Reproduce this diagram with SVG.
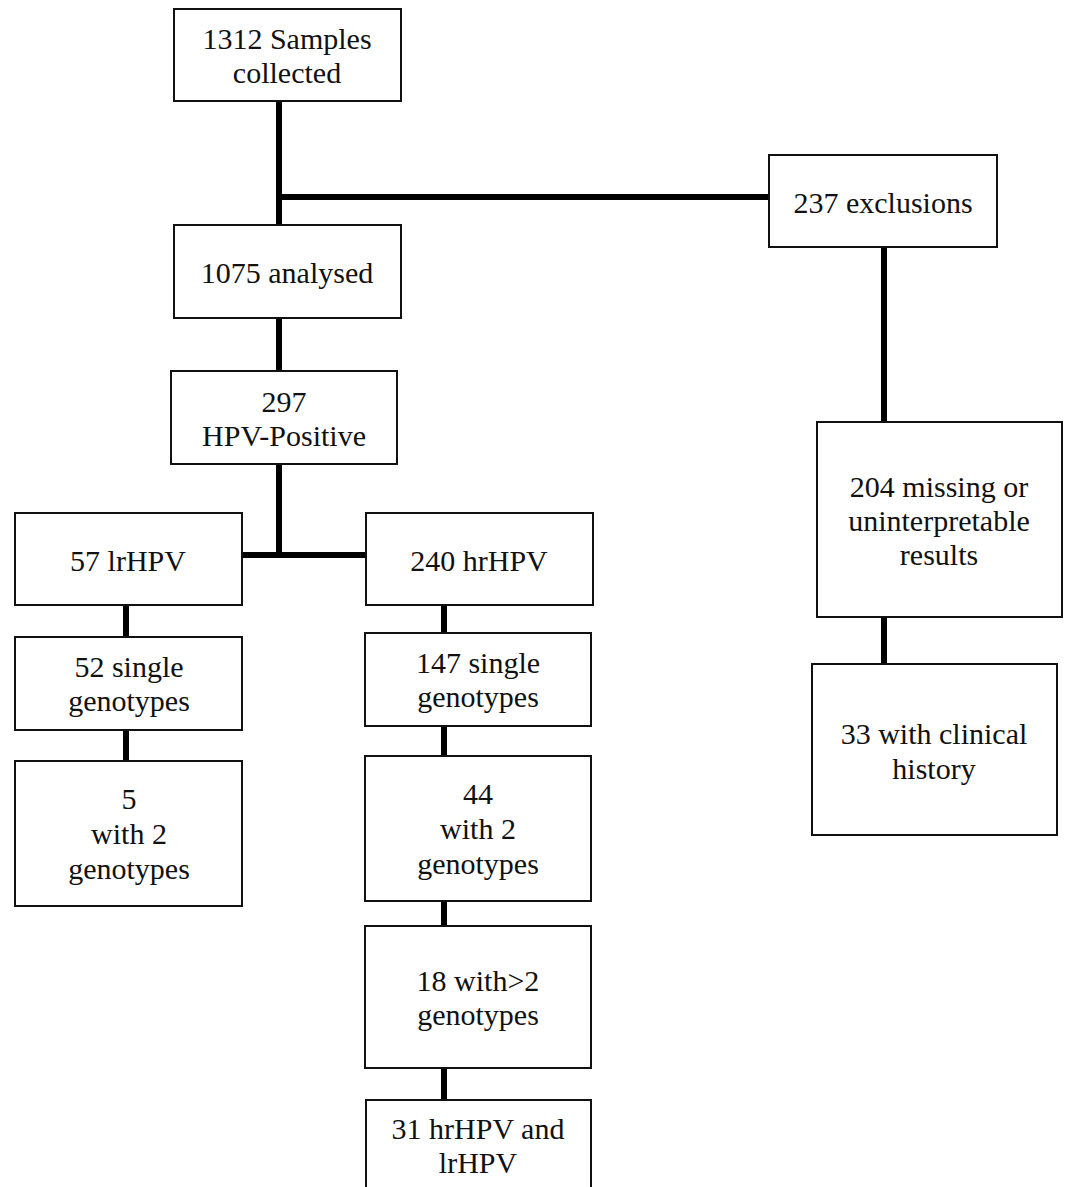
<svg xmlns="http://www.w3.org/2000/svg" width="1068" height="1187" viewBox="0 0 1068 1187">
<style>
.box{fill:#fff;stroke:#111;stroke-width:2}
.t{font-family:"Liberation Serif","Times New Roman",serif;font-size:30px;fill:#111;text-anchor:middle}
.c{stroke:#000;stroke-width:6;fill:none}
</style>
<rect width="1068" height="1187" fill="#fff"/>
<g id="connectors">
<line class="c" x1="279" y1="101" x2="279" y2="225"/>
<line class="c" x1="276" y1="197" x2="769" y2="197"/>
<line class="c" x1="279" y1="318" x2="279" y2="371"/>
<line class="c" x1="279" y1="464" x2="279" y2="558"/>
<line class="c" x1="242" y1="555" x2="366" y2="555"/>
<line class="c" x1="126" y1="605" x2="126" y2="637"/>
<line class="c" x1="126" y1="730" x2="126" y2="761"/>
<line class="c" x1="444" y1="605" x2="444" y2="633"/>
<line class="c" x1="444" y1="726" x2="444" y2="756"/>
<line class="c" x1="444" y1="901" x2="444" y2="926"/>
<line class="c" x1="444" y1="1068" x2="444" y2="1100"/>
<line class="c" x1="884" y1="247" x2="884" y2="422"/>
<line class="c" x1="884" y1="617" x2="884" y2="664"/>
</g>
<g id="n1312"><rect class="box" x="174" y="9" width="227" height="92"/><text class="t" x="287" y="49">1312 Samples</text><text class="t" x="287" y="83">collected</text></g>
<g id="n237"><rect class="box" x="769" y="155" width="228" height="92"/><text class="t" x="883" y="213">237 exclusions</text></g>
<g id="n1075"><rect class="box" x="174" y="225" width="227" height="93"/><text class="t" x="287" y="283">1075 analysed</text></g>
<g id="n297"><rect class="box" x="171" y="371" width="226" height="93"/><text class="t" x="284" y="412">297</text><text class="t" x="284" y="446">HPV-Positive</text></g>
<g id="n57"><rect class="box" x="15" y="513" width="227" height="92"/><text class="t" x="128" y="571">57 lrHPV</text></g>
<g id="n240"><rect class="box" x="366" y="513" width="227" height="92"/><text class="t" x="479" y="571">240 hrHPV</text></g>
<g id="n52"><rect class="box" x="15" y="637" width="227" height="93"/><text class="t" x="129" y="677">52 single</text><text class="t" x="129" y="711">genotypes</text></g>
<g id="n5"><rect class="box" x="15" y="761" width="227" height="145"/><text class="t" x="129" y="809">5</text><text class="t" x="129" y="844">with 2</text><text class="t" x="129" y="879">genotypes</text></g>
<g id="n147"><rect class="box" x="365" y="633" width="226" height="93"/><text class="t" x="478" y="673">147 single</text><text class="t" x="478" y="707">genotypes</text></g>
<g id="n44"><rect class="box" x="365" y="756" width="226" height="145"/><text class="t" x="478" y="804">44</text><text class="t" x="478" y="839">with 2</text><text class="t" x="478" y="874">genotypes</text></g>
<g id="n18"><rect class="box" x="365" y="926" width="226" height="142"/><text class="t" x="478" y="991">18 with&gt;2</text><text class="t" x="478" y="1025">genotypes</text></g>
<g id="n31"><rect class="box" x="366" y="1100" width="225" height="100"/><text class="t" x="478" y="1139">31 hrHPV and</text><text class="t" x="478" y="1173">lrHPV</text></g>
<g id="n204"><rect class="box" x="817" y="422" width="245" height="195"/><text class="t" x="939" y="497">204 missing or</text><text class="t" x="939" y="531">uninterpretable</text><text class="t" x="939" y="565">results</text></g>
<g id="n33"><rect class="box" x="812" y="664" width="245" height="171"/><text class="t" x="934" y="744">33 with clinical</text><text class="t" x="934" y="779">history</text></g>
</svg>
